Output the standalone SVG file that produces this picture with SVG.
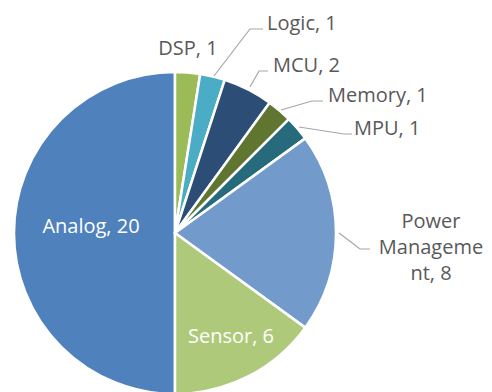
<svg xmlns="http://www.w3.org/2000/svg" width="492" height="392" viewBox="0 0 492 392">
<style>
.s{stroke:#fff;stroke-width:2.5;stroke-linejoin:round}
.lbl{font-family:"Open Sans","Noto Sans",sans-serif;font-size:20px;fill:#595959}
.in{font-family:"Open Sans","Noto Sans",sans-serif;font-size:20px;fill:#fff}
.ld{fill:none;stroke:#A6A6A6;stroke-width:1.2}
</style>
<rect width="492" height="392" fill="#fff"/>
<g id="slices">
<g id="analog"><path class="s" fill="#4F81BD" d="M175,233 L175,394 A161,161 0 0,1 175,72 Z"/><text class="in" x="91" y="233" text-anchor="middle">Analog, 20</text></g>
<g id="dsp"><path class="s" fill="#9BBB59" d="M175,233 L175,72 A161,161 0 0,1 200.19,73.98 Z"/><text class="lbl" x="188" y="55" text-anchor="middle">DSP, 1</text></g>
<g id="logic"><path class="s" fill="#4BACC6" d="M175,233 L200.19,73.98 A161,161 0 0,1 224.75,79.88 Z"/><text class="lbl" x="267" y="30">Logic, 1</text></g>
<g id="mcu"><path class="s" fill="#2C4D75" d="M175,233 L224.75,79.88 A161,161 0 0,1 269.63,102.75 Z"/><text class="lbl" x="273" y="72">MCU, 2</text></g>
<g id="memory"><path class="s" fill="#5F7530" d="M175,233 L269.63,102.75 A161,161 0 0,1 288.84,119.16 Z"/><text class="lbl" x="328" y="102">Memory, 1</text></g>
<g id="mpu"><path class="s" fill="#276A7C" d="M175,233 L288.84,119.16 A161,161 0 0,1 305.25,138.37 Z"/><text class="lbl" x="354" y="135">MPU, 1</text></g>
<g id="power"><path class="s" fill="#729ACA" d="M175,233 L305.25,138.37 A161,161 0 0,1 305.25,327.63 Z"/><text class="lbl" text-anchor="middle"><tspan x="431" y="228">Power</tspan><tspan x="431" y="254">Manageme</tspan><tspan x="431" y="280">nt, 8</tspan></text></g>
<g id="sensor"><path class="s" fill="#AFC97A" d="M175,233 L305.25,327.63 A161,161 0 0,1 175,394 Z"/><text class="in" x="231" y="343" text-anchor="middle">Sensor, 6</text></g>
</g>
<g id="connectors">
<polyline class="ld" points="214,76 250,29 263,29"/>
<polyline class="ld" points="250,87 259,71 268,71"/>
<polyline class="ld" points="281,110 312,101 323,101"/>
<polyline class="ld" points="299,127 344,134 352,134"/>
<polyline class="ld" points="339,233 360,249 370,249"/>
</g>
</svg>
